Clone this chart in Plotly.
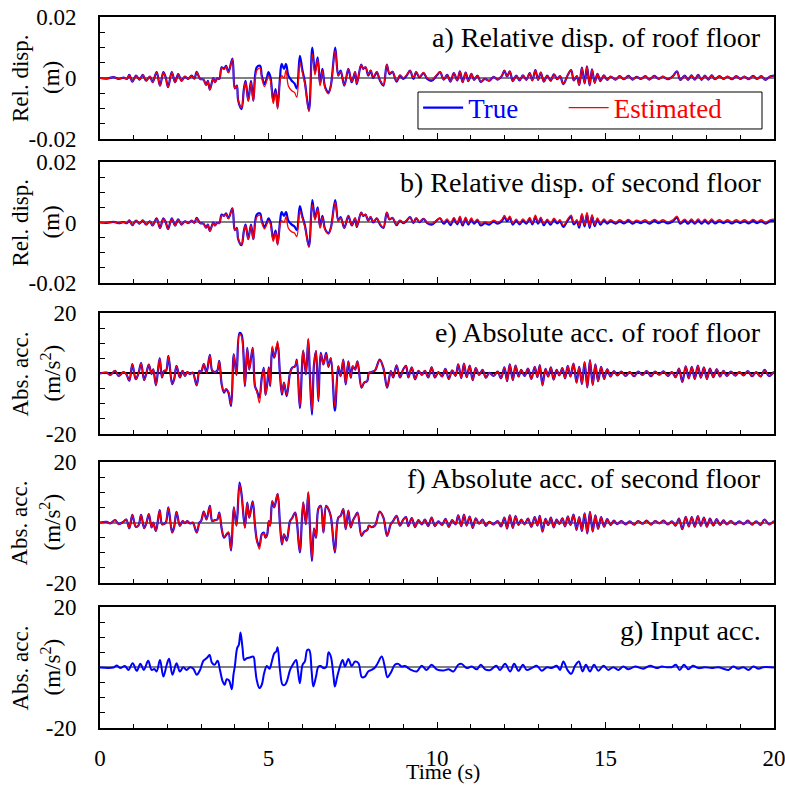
import numpy as np
import plotly.graph_objects as go
from plotly.subplots import make_subplots

# ---- relative displacement (read in mm, plotted in m) ----
t_disp_head = [0.0, 0.2, 0.4, 0.55, 0.7, 0.8, 0.87, 0.96, 1.07, 1.17,
               1.27, 1.37, 1.48, 1.56, 1.68, 1.78, 1.88, 1.95, 2.02, 2.13,
               2.23, 2.32, 2.42, 2.52, 2.62, 2.72, 2.8, 2.87, 2.97, 3.07,
               3.15, 3.2, 3.26, 3.36, 3.41, 3.48, 3.54, 3.61, 3.68, 3.74,
               3.81, 3.93, 4.0, 4.06, 4.1, 4.2, 4.27, 4.32, 4.4, 4.48,
               4.55, 4.65, 4.75, 4.8, 4.88, 4.95, 5.0, 5.06, 5.14, 5.21,
               5.27, 5.34, 5.39, 5.46, 5.52, 5.59, 5.69, 5.77, 5.84, 5.93,
               6.0, 6.08, 6.2, 6.3, 6.38, 6.46, 6.53, 6.6, 6.68, 6.78,
               6.85, 6.98, 7.07, 7.14, 7.25, 7.37, 7.47, 7.57, 7.62, 7.75,
               7.81, 7.88, 7.96, 8.03, 8.11, 8.21, 8.31, 8.41, 8.51, 8.59,
               8.68, 8.8, 8.9, 9.0, 9.1, 9.2, 9.3, 9.38, 9.48, 9.6,
               9.71, 9.84, 9.99, 10.09]
t_disp_tail = [10.2, 10.3, 10.4, 10.5, 10.6, 10.68, 10.76, 10.85, 10.93, 11.02,
               11.1, 11.2, 11.3, 11.42, 11.55, 11.68, 11.8, 11.92, 12.0, 12.08,
               12.16, 12.25, 12.35, 12.45, 12.55, 12.65, 12.75, 12.83, 12.92, 13.0,
               13.08, 13.17, 13.27, 13.37, 13.47, 13.57, 13.65, 13.75, 13.88, 13.98,
               14.06, 14.15, 14.22, 14.3, 14.38, 14.45, 14.53, 14.6, 14.68, 14.76,
               14.85, 14.95, 15.05, 15.15, 15.3, 15.42, 15.55, 15.68, 15.8, 15.92,
               16.05, 16.18, 16.3, 16.45, 16.58, 16.7, 16.85, 17.0, 17.12, 17.22,
               17.35, 17.45, 17.55, 17.65, 17.75, 17.85, 17.95, 18.05, 18.15, 18.25,
               18.38, 18.5, 18.62, 18.75, 18.88, 19.0, 19.12, 19.25, 19.38, 19.5,
               19.62, 19.75, 19.88, 20.0]

roof_disp_true_head = [0, -0.2, 0.3, -0.3, 0.1, -0.3, 1.0, -1.2, 0.8, -0.5,
                       1.0, -0.9, 0.5, -1.4, 1.9, -2.5, 1.9, 0.2, -3.0, 1.9,
                       -1.4, 1.3, -0.9, 0.5, -0.3, 0.8, -0.2, 2.0, -0.3, -0.5,
                       -2.3, -0.9, -3.8, 0.0, -1.4, -0.1, -0.3, 3.5, 3.0, 4.0,
                       1.9, 6.4, -3.4, -2.5, -7.4, -10.2, -3.6, -0.9, -7.4, -0.9,
                       -7.4, 3.5, 4.0, 0.8, -2.0, 0.0, 1.9, 0.2, -7.4, -3.6,
                       -9.6, 0.0, 4.6, 3.0, 4.6, 0.8, -0.9, -1.8, -3.4, 7.3,
                       3.0, -1.4, -10.7, 10.0, 1.9, 6.8, -2.0, 3.0, -3.0, -4.7,
                       -2.5, 10.0, 0.8, 2.4, -2.5, 3.0, -1.4, 1.9, -2.0, 4.4,
                       3.0, 3.5, 0.8, 2.4, 0.0, 1.9, -0.9, -2.5, 4.4, 1.3,
                       2.0, -1.2, 0.8, -0.3, 0.8, 2.4, -0.3, 1.9, 0.2, 1.6,
                       -0.3, -0.9, 0.8, 1.9]
roof_disp_est_head = [0, -0.2, 0.3, -0.3, 0.1, -0.3, 1.0, -1.2, 0.8, -0.5,
                      1.0, -0.9, 0.5, -1.4, 1.8, -2.6, 1.8, 0.1, -3.1, 1.8,
                      -1.5, 1.2, -1.0, 0.5, -0.3, 0.8, -0.2, 1.9, -0.3, -0.6,
                      -2.4, -1.0, -3.9, -0.1, -1.5, -0.2, -0.4, 3.3, 2.8, 3.8,
                      1.8, 6.2, -3.4, -2.6, -7.2, -9.8, -3.8, -1.4, -7.6, -1.4,
                      -7.6, 2.4, 3.2, 0.0, -2.8, -0.8, 0.8, -1.0, -8.4, -4.4,
                      -10.2, -1.2, 0.8, 0.0, 2.6, -2.6, -4.2, -4.7, -6.3, 5.2,
                      2.0, -2.0, -11.0, 8.0, 1.0, 6.2, -2.6, 2.4, -3.4, -5.2,
                      -2.6, 9.0, 0.8, 2.2, -2.4, 3.0, -1.2, 2.0, -1.8, 4.4,
                      3.1, 3.6, 1.0, 2.5, 0.2, 2.0, -0.7, -2.3, 4.4, 1.5,
                      2.2, -1.0, 1.0, 0.0, 1.0, 2.4, 0.0, 2.0, 0.4, 1.8,
                      0.0, -0.6, 1.0, 2.0]
roof_disp_tail = [-0.5, 1.0, -1.2, 1.6, -0.8, 2.2, -1.4, 1.8, -1.0, 1.4,
                  -0.6, 0.8, -1.3, -0.3, -0.9, 0.4, -0.5, 0.6, 2.4, 0.5,
                  2.2, -1.0, 0.8, -0.8, 0.9, -0.6, 1.6, -0.8, 2.6, -0.6,
                  1.8, -1.2, 0.8, -0.9, 1.2, -0.4, 0.6, -2.0, 1.0, 2.6,
                  -0.8, 0.6, -2.3, 3.4, -1.8, 3.8, -2.4, 2.8, -1.6, 1.4,
                  -1.0, 0.9, -0.6, 0.5, -0.5, 0.6, -0.4, 0.7, -0.5, 0.4,
                  -0.3, 0.6, -0.5, 0.7, -0.3, 0.5, -0.4, 0.6, 2.2, -0.6,
                  0.8, -0.6, 0.9, -0.5, 1.0, -0.6, 0.8, -0.5, 0.9, -0.4,
                  0.6, -0.3, 0.5, -0.4, 0.6, -0.3, 0.5, -0.4, 0.7, -0.3,
                  0.6, -0.6, 0.5, 0.8]

second_disp_true_head = [0, -0.1, 0.2, -0.2, 0.1, -0.2, 0.7, -0.9, 0.6, -0.4,
                         0.7, -0.7, 0.4, -1.0, 1.4, -1.8, 1.4, 0.1, -2.2, 1.4,
                         -1.0, 1.0, -0.7, 0.4, -0.2, 0.6, -0.1, 1.5, -0.2, -0.4,
                         -1.7, -0.7, -2.8, 0.0, -1.0, -0.1, -0.2, 2.6, 2.2, 3.0,
                         1.4, 4.7, -2.5, -1.8, -5.5, -7.5, -2.7, -0.7, -5.5, -0.7,
                         -5.5, 2.6, 3.0, 0.6, -1.5, 0.0, 1.4, 0.1, -5.5, -2.7,
                         -7.1, 0.0, 3.4, 2.2, 3.4, 0.6, -0.7, -1.3, -2.5, 5.4,
                         2.2, -1.0, -7.9, 7.4, 1.4, 5.0, -1.5, 2.2, -2.2, -3.5,
                         -1.8, 7.4, 0.6, 1.8, -1.8, 2.2, -1.0, 1.4, -1.5, 3.3,
                         2.2, 2.6, 0.6, 1.8, 0.0, 1.4, -0.7, -1.8, 3.3, 1.0,
                         1.5, -0.9, 0.6, -0.2, 0.6, 1.8, -0.2, 1.4, 0.1, 1.2,
                         -0.2, -0.7, 0.6, 1.4]
second_disp_est_head = [0, -0.1, 0.2, -0.2, 0.1, -0.2, 0.7, -0.9, 0.6, -0.4,
                        0.7, -0.7, 0.4, -1.0, 1.3, -1.9, 1.3, 0.1, -2.3, 1.3,
                        -1.1, 0.9, -0.7, 0.4, -0.2, 0.6, -0.1, 1.4, -0.2, -0.4,
                        -1.8, -0.7, -2.9, -0.1, -1.1, -0.1, -0.3, 2.4, 2.1, 2.8,
                        1.3, 4.6, -2.5, -1.9, -5.3, -7.3, -2.8, -1.0, -5.6, -1.0,
                        -5.6, 1.8, 2.4, 0.0, -2.1, -0.6, 0.6, -0.7, -6.2, -3.3,
                        -7.5, -0.9, 0.6, 0.0, 1.9, -1.9, -3.1, -3.5, -4.7, 3.8,
                        1.5, -1.5, -8.2, 5.9, 0.7, 4.6, -1.9, 1.8, -2.5, -3.8,
                        -1.9, 6.7, 0.6, 1.6, -1.8, 2.2, -0.9, 1.5, -1.3, 3.3,
                        2.3, 2.7, 0.7, 1.9, 0.1, 1.5, -0.5, -1.7, 3.3, 1.1,
                        1.6, -0.7, 0.7, 0.0, 0.7, 1.8, 0.0, 1.5, 0.3, 1.3,
                        0.0, -0.4, 0.7, 1.5]
second_disp_true_tail = [-0.4, 0.7, -0.9, 1.2, -0.6, 1.6, -1.0, 1.3, -0.7, 1.0,
                         -0.4, 0.6, -1.0, -0.2, -0.7, 0.3, -0.4, 0.4, 1.8, 0.4,
                         1.6, -0.7, 0.6, -0.6, 0.7, -0.4, 1.2, -0.6, 1.9, -0.4,
                         1.3, -0.9, 0.6, -0.7, 0.9, -0.3, 0.4, -1.5, 0.7, 1.9,
                         -0.6, 0.4, -1.7, 2.5, -1.3, 2.8, -1.8, 2.1, -1.2, 1.0,
                         -0.7, 0.7, -0.4, 0.4, -0.4, 0.4, -0.3, 0.5, -0.4, 0.3,
                         -0.2, 0.4, -0.4, 0.5, -0.2, 0.4, -0.3, 0.4, 1.6, -0.4,
                         0.6, -0.4, 0.7, -0.4, 0.7, -0.4, 0.6, -0.4, 0.7, -0.3,
                         0.4, -0.2, 0.4, -0.3, 0.4, -0.2, 0.4, -0.3, 0.5, -0.2,
                         0.4, -0.4, 0.4, 0.6]
second_disp_est_tail = [0.1, 1.2, -0.4, 1.7, -0.1, 2.1, -0.5, 1.8, -0.2, 1.5,
                        0.1, 1.1, -0.5, 0.3, -0.2, 0.8, 0.1, 0.9, 2.3, 0.9,
                        2.1, -0.2, 1.1, -0.1, 1.2, 0.1, 1.7, -0.1, 2.4, 0.1,
                        1.8, -0.4, 1.1, -0.2, 1.4, 0.2, 0.9, -1.0, 1.2, 2.4,
                        -0.1, 0.9, -1.2, 3.0, -0.8, 3.3, -1.3, 2.6, -0.7, 1.5,
                        -0.2, 1.2, 0.1, 0.9, 0.1, 0.9, 0.2, 1.0, 0.1, 0.8,
                        0.3, 0.9, 0.1, 1.0, 0.3, 0.9, 0.2, 0.9, 2.1, 0.1,
                        1.1, 0.1, 1.2, 0.1, 1.2, 0.1, 1.1, 0.1, 1.2, 0.2,
                        0.9, 0.3, 0.9, 0.2, 0.9, 0.3, 0.9, 0.2, 1.0, 0.3,
                        0.9, 0.1, 0.9, 1.1]

# ---- absolute acceleration (m/s^2) ----
t_acc_head = [0.0, 0.2, 0.3, 0.45, 0.55, 0.7, 0.78, 0.87, 0.96, 1.06,
              1.14, 1.22, 1.31, 1.38, 1.45, 1.53, 1.58, 1.66, 1.77, 1.84,
              1.9, 1.96, 2.03, 2.14, 2.2, 2.27, 2.37, 2.45, 2.52, 2.59,
              2.67, 2.75, 2.87, 2.95, 3.0, 3.08, 3.16, 3.26, 3.33, 3.41,
              3.48, 3.54, 3.61, 3.68, 3.74, 3.81, 3.89, 3.97, 4.05, 4.14,
              4.2, 4.3, 4.37, 4.43, 4.53, 4.6, 4.66, 4.73, 4.8, 4.86,
              4.91, 4.96, 5.01, 5.05, 5.11, 5.17, 5.27, 5.34, 5.4, 5.46,
              5.54, 5.64, 5.7, 5.79, 5.84, 5.93, 6.03, 6.11, 6.18, 6.23,
              6.29, 6.35, 6.41, 6.48, 6.55, 6.63, 6.71, 6.78, 6.85, 6.97,
              7.07, 7.14, 7.22, 7.29, 7.37, 7.44, 7.5, 7.57, 7.64, 7.76,
              7.84, 7.93, 7.98, 8.06, 8.16, 8.3, 8.41, 8.52, 8.63, 8.7,
              8.8, 8.9, 9.0, 9.08, 9.15, 9.25, 9.35, 9.45, 9.55, 9.64,
              9.74, 9.84, 9.94, 10.04]
t_acc_tail = [10.15, 10.25, 10.35, 10.45, 10.55, 10.63, 10.72, 10.8, 10.88, 10.97,
              11.06, 11.15, 11.25, 11.35, 11.45, 11.55, 11.68, 11.8, 11.9, 12.0,
              12.08, 12.16, 12.25, 12.33, 12.42, 12.5, 12.6, 12.7, 12.8, 12.9,
              12.98, 13.05, 13.13, 13.22, 13.3, 13.38, 13.46, 13.55, 13.63, 13.72,
              13.8, 13.88, 13.96, 14.05, 14.14, 14.22, 14.3, 14.38, 14.46, 14.54,
              14.62, 14.7, 14.78, 14.87, 14.96, 15.05, 15.15, 15.25, 15.35, 15.47,
              15.6, 15.72, 15.85, 15.97, 16.1, 16.22, 16.35, 16.47, 16.6, 16.72,
              16.85, 16.97, 17.08, 17.18, 17.28, 17.38, 17.47, 17.56, 17.65, 17.74,
              17.83, 17.92, 18.01, 18.1, 18.2, 18.3, 18.4, 18.5, 18.6, 18.72,
              18.85, 18.97, 19.1, 19.22, 19.35, 19.47, 19.6, 19.72, 19.85, 20.0]

roof_acc_true_head = [0, 0.3, -0.5, 0.9, -0.8, 0.5, -0.2, -2.4, 3.1, -1.9,
                      0.0, 3.4, -2.2, 0.3, 2.9, -0.2, 1.4, -3.9, 5.1, -1.3,
                      0.9, 0.9, 5.8, -3.5, -1.9, 2.5, -1.3, 0.9, -0.8, 0.5,
                      -0.2, 0.3, -3.9, 0.9, 0.5, 3.1, 0.3, 6.2, 0.9, 0.5,
                      0.9, 4.2, -3.5, -6.3, -5.2, -6.3, -10.7, 6.3, -0.5, 13.4,
                      12.9, -4.2, 8.5, 1.3, 8.5, -4.2, -5.8, -8.0, -1.4, 1.9,
                      -7.0, -3.6, 2.0, -4.2, 8.5, 5.2, 9.8, -0.3, -7.0, -3.0,
                      -7.5, 0.2, 1.9, 2.4, 4.6, -11.4, 7.4, -0.3, 11.2, -1.4,
                      -13.6, 3.0, 7.4, -9.1, 6.8, 3.0, 6.8, 2.2, 5.0, -12.3,
                      2.4, -0.9, 4.6, -3.6, 4.0, -1.4, 2.4, 1.3, 4.0, -4.7,
                      -3.0, -2.5, 0.2, 0.5, 1.0, 4.6, 1.8, -4.7, 0.8, -1.3,
                      2.7, -1.3, 1.4, 2.5, -1.3, 2.0, -1.9, 0.9, -0.5, 0.9,
                      -1.3, 2.0, -1.3, 0.5]
roof_acc_est_head = [0, 0.3, -0.5, 0.9, -0.8, 0.5, -0.2, -2.3, 3.0, -1.9,
                     0.0, 3.3, -2.2, 0.3, 2.9, -0.2, 1.4, -3.8, 5.0, -1.3,
                     0.9, 0.9, 5.7, -3.5, -1.9, 2.5, -1.3, 0.9, -0.8, 0.5,
                     -0.2, 0.3, -3.8, 0.9, 0.5, 3.1, 0.3, 6.0, 0.9, 0.5,
                     0.9, 4.1, -3.4, -6.1, -5.0, -6.0, -10.3, 6.5, -0.3, 13.0,
                     12.2, -4.0, 8.2, 1.3, 8.3, -4.2, -6.2, -9.7, -1.8, 1.6,
                     -7.2, -3.8, 1.8, -4.0, 9.0, 5.4, 10.7, 0.0, -6.6, -3.0,
                     -7.0, 0.2, 1.8, 2.4, 4.4, -11.0, 7.8, 0.0, 11.6, -1.0,
                     -12.5, 3.0, 7.6, -8.6, 6.6, 3.0, 6.4, 2.4, 5.2, -11.0,
                     2.4, -0.9, 4.6, -3.4, 4.0, -1.4, 2.4, 1.3, 4.0, -4.6,
                     -3.0, -2.5, 0.2, 0.5, 1.0, 4.5, 1.8, -4.6, 0.8, -1.3,
                     2.7, -1.3, 1.4, 2.5, -1.3, 2.0, -1.9, 0.9, -0.5, 0.9,
                     -1.3, 2.0, -1.3, 0.5]
roof_acc_tail = [-1.0, 1.5, -1.8, 1.0, -0.8, 3.0, -1.5, 3.3, -1.2, 2.6,
                 -2.2, 1.8, -0.5, 1.2, -1.4, 0.2, -0.8, 0.6, -1.6, 2.0,
                 -2.5, 3.0, -2.2, 2.6, -1.0, 1.2, -0.8, 1.6, -1.8, 2.2,
                 -1.2, 2.8, -3.9, 1.5, -1.0, 2.0, -2.0, 1.2, -0.6, 1.8,
                 -1.6, 2.5, -1.0, 3.3, -3.0, 2.2, -3.5, 3.8, -4.6, 4.4,
                 -3.8, 3.0, -2.6, 2.2, -1.8, 1.4, -1.0, 0.8, -0.6, 0.6,
                 -0.8, 0.5, -0.9, 0.6, -0.5, 0.8, -0.9, 0.6, -0.4, 0.7,
                 -0.8, 0.5, -1.2, 1.6, -2.8, 2.4, -1.6, 2.2, -1.8, 2.6,
                 -1.4, 2.0, -1.8, 1.6, -1.2, 1.4, -1.0, 0.9, -0.8, 0.6,
                 -0.7, 0.5, -0.6, 0.8, -0.9, 0.5, -1.0, 1.2, -0.8, 0.6]

second_acc_true_head = [0, 0.2, -0.3, 0.8, -0.5, 0.3, 1.0, -1.9, 2.5, -1.4,
                        -1.0, 2.5, -1.9, 0.0, 2.8, -1.6, 0.0, -2.8, 4.1, -0.5,
                        -0.5, 0.2, 5.0, -3.3, -1.5, 3.5, -1.1, 0.5, -0.2, 0.5,
                        -0.3, 0.0, -3.3, 0.0, 0.5, 3.6, 1.0, 5.5, 0.5, 0.8,
                        1.0, 3.3, -2.0, -5.0, -4.2, -3.3, -9.2, 5.0, -1.0, 13.2,
                        9.4, -1.6, 6.6, 1.6, 7.0, -1.0, -6.0, -7.8, -3.9, -3.3,
                        -5.0, -4.0, 0.5, -1.0, 7.0, 5.0, 9.4, -0.5, -7.2, -3.9,
                        -6.0, 0.5, 1.4, 3.3, 0.5, -9.9, 6.6, -0.5, 9.9, -1.5,
                        -12.7, -2.0, -5.0, 4.6, 5.5, -3.3, 5.5, 4.4, 2.0, -9.9,
                        1.6, 2.2, 4.4, -2.2, 3.9, -1.6, 0.5, 2.0, 3.3, -4.4,
                        -3.0, -2.5, -1.0, -1.5, -1.0, 3.6, 1.6, -4.4, -0.5, 0.5,
                        2.2, -1.0, 1.0, 1.8, -1.2, 1.5, -1.5, 0.8, -0.6, 1.0,
                        -1.2, 1.6, -1.2, 0.4]
second_acc_est_head = [0, 0.2, -0.3, 0.8, -0.5, 0.3, 1.0, -1.9, 2.5, -1.4,
                       -1.0, 2.5, -1.9, 0.0, 2.8, -1.6, 0.0, -2.8, 4.0, -0.5,
                       -0.5, 0.2, 5.0, -3.3, -1.5, 3.4, -1.1, 0.5, -0.2, 0.5,
                       -0.3, 0.0, -3.3, 0.0, 0.5, 3.5, 1.0, 5.4, 0.5, 0.8,
                       1.0, 3.2, -2.0, -4.8, -4.0, -3.2, -9.0, 5.2, -1.0, 12.6,
                       9.0, -1.8, 6.4, 1.6, 6.8, -1.2, -6.4, -8.8, -4.2, -3.5,
                       -5.0, -4.0, 0.5, -1.2, 7.2, 5.0, 9.6, -0.5, -7.0, -3.9,
                       -5.8, 0.5, 1.4, 3.3, 0.5, -9.6, 6.8, -0.5, 10.2, -1.5,
                       -12.0, -2.0, -5.0, 4.6, 5.5, -3.3, 5.5, 4.4, 2.0, -9.6,
                       1.6, 2.2, 4.4, -2.2, 3.9, -1.6, 0.5, 2.0, 3.3, -4.3,
                       -3.0, -2.5, -1.0, -1.5, -1.0, 3.6, 1.6, -4.4, -0.5, 0.5,
                       2.2, -1.0, 1.0, 1.8, -1.2, 1.5, -1.5, 0.8, -0.6, 1.0,
                       -1.2, 1.6, -1.2, 0.4]
second_acc_tail = [-0.8, 1.2, -1.4, 0.8, -0.6, 2.4, -1.2, 2.6, -1.0, 2.0,
                   -1.8, 1.4, -0.4, 1.0, -1.1, 0.2, -0.6, 0.5, -1.3, 1.6,
                   -2.0, 2.4, -1.8, 2.1, -0.8, 1.0, -0.6, 1.3, -1.4, 1.8,
                   -1.0, 2.2, -3.0, 1.2, -0.8, 1.6, -1.6, 1.0, -0.5, 1.4,
                   -1.3, 2.0, -0.8, 2.6, -2.4, 1.8, -2.8, 3.0, -3.6, 3.5,
                   -3.0, 2.4, -2.1, 1.8, -1.4, 1.1, -0.8, 0.6, -0.5, 0.5,
                   -0.6, 0.4, -0.7, 0.5, -0.4, 0.6, -0.7, 0.5, -0.3, 0.6,
                   -0.6, 0.4, -1.0, 1.3, -2.2, 1.9, -1.3, 1.8, -1.4, 2.1,
                   -1.1, 1.6, -1.4, 1.3, -1.0, 1.1, -0.8, 0.7, -0.6, 0.5,
                   -0.6, 0.4, -0.5, 0.6, -0.7, 0.4, -0.8, 1.0, -0.6, 0.5]

# ---- input (ground) acceleration (m/s^2) ----
t_inp = [0.0, 0.4, 0.5, 0.6, 0.74, 0.84, 0.97, 1.09, 1.2, 1.3,
         1.43, 1.53, 1.61, 1.68, 1.78, 1.88, 1.98, 2.05, 2.15, 2.27,
         2.37, 2.47, 2.57, 2.67, 2.77, 2.87, 2.97, 3.07, 3.17, 3.25,
         3.32, 3.4, 3.49, 3.56, 3.64, 3.7, 3.76, 3.83, 3.91, 3.96,
         4.0, 4.07, 4.12, 4.17, 4.23, 4.28, 4.35, 4.45, 4.55, 4.6,
         4.65, 4.73, 4.8, 4.87, 4.95, 5.03, 5.1, 5.17, 5.23, 5.27,
         5.34, 5.42, 5.49, 5.56, 5.64, 5.72, 5.82, 5.87, 5.93, 6.01,
         6.08, 6.15, 6.21, 6.28, 6.33, 6.41, 6.48, 6.55, 6.63, 6.71,
         6.78, 6.85, 6.93, 6.97, 7.04, 7.12, 7.2, 7.27, 7.37, 7.47,
         7.57, 7.67, 7.77, 7.86, 7.96, 8.06, 8.16, 8.24, 8.36, 8.46,
         8.53, 8.63, 8.75, 8.85, 8.95, 9.05, 9.2, 9.4, 9.55, 9.69,
         9.84, 9.99, 10.19, 10.34, 10.49, 10.63, 10.73, 10.88, 11.03, 11.18,
         11.3, 11.43, 11.58, 11.76, 11.87, 12.02, 12.17, 12.29, 12.42, 12.55,
         12.66, 12.81, 12.96, 13.11, 13.26, 13.4, 13.55, 13.65, 13.75, 13.87,
         13.98, 14.1, 14.21, 14.32, 14.42, 14.54, 14.66, 14.79, 14.94, 15.08,
         15.23, 15.38, 15.53, 15.68, 15.88, 16.12, 16.32, 16.52, 16.67, 16.81,
         16.96, 17.09, 17.2, 17.33, 17.46, 17.59, 17.76, 17.95, 18.15, 18.35,
         18.5, 18.65, 18.79, 18.94, 19.09, 19.24, 19.39, 19.54, 19.68, 20.0]
input_acc = [0, 0.0, 0.7, -0.2, 0.5, -0.8, 1.4, -1.1, 1.2, -0.8,
             2.2, -0.8, -0.5, -1.3, 2.5, -3.0, 0.9, 2.9, -2.4, 1.4,
             -1.3, 0.1, -0.8, 0.1, -0.4, -2.4, -0.8, 2.3, 3.1, 4.1,
             1.6, 0.9, 2.2, -0.8, -4.6, -5.7, -3.9, -4.3, -7.2, -2.4,
             0.3, 6.4, 7.5, 11.6, 6.4, 2.5, 3.0, 3.3, 3.6, 0.3,
             -4.1, -6.8, -5.7, -1.9, 0.5, -0.4, 2.0, 4.7, 5.3, 6.7,
             -0.8, -5.7, -5.7, -4.1, -0.8, 0.9, 2.5, -0.8, -5.2, 0.9,
             2.0, 5.8, 5.8, -1.3, -6.3, -3.0, 0.3, 0.5, -0.2, 0.1,
             5.0, 3.6, -3.0, -6.3, -3.0, 0.3, 2.5, 0.3, 2.8, 0.5,
             2.0, 1.4, -3.2, -3.0, -1.3, -0.8, 0.0, 1.4, 3.6, -0.2,
             -3.2, -1.7, 0.9, 1.2, 0.3, 0.5, -0.6, -1.3, 0.6, -0.8,
             0.9, -0.6, -1.0, -0.6, -1.3, 0.9, 1.2, -0.2, 0.3, -0.6,
             0.9, -0.6, -0.8, 0.6, -0.8, 1.2, -1.3, 1.2, -1.1, 0.9,
             -0.8, -0.2, 0.6, -1.1, 0.1, -0.2, 0.6, -0.8, 2.0, -0.8,
             -2.1, 0.6, 2.0, -1.3, 0.9, -1.3, 0.9, -1.1, 0.6, -0.8,
             0.1, -0.8, 0.3, -0.6, 0.3, -0.4, 0.6, -0.2, 0.3, 0.1,
             0.1, 0.9, -0.8, 0.9, -0.6, 0.6, -0.2, 0.1, -0.2, 0.1,
             -0.4, -0.8, 0.3, -0.4, 0.1, -0.8, 0.3, -0.4, 0.1, 0.0]

panel_labels = ["a) Relative disp. of roof floor", "b) Relative disp. of second floor",
                "e) Absolute acc. of roof floor", "f) Absolute acc. of second floor",
                "g) Input acc."]

# assemble full records
t_disp = t_disp_head + t_disp_tail
t_acc = t_acc_head + t_acc_tail
series = [
    (t_disp, np.array(roof_disp_true_head + roof_disp_tail) / 1000,
     np.array(roof_disp_est_head + roof_disp_tail) / 1000),
    (t_disp, np.array(second_disp_true_head + second_disp_true_tail) / 1000,
     np.array(second_disp_est_head + second_disp_est_tail) / 1000),
    (t_acc, roof_acc_true_head + roof_acc_tail, roof_acc_est_head + roof_acc_tail),
    (t_acc, second_acc_true_head + second_acc_tail, second_acc_est_head + second_acc_tail),
]
for t, a, b in series:
    assert len(t) == len(a) == len(b), (len(t), len(a), len(b))
assert len(t_inp) == len(input_acc)

FONT = "Liberation Serif"
BLUE = "#0000FF"
RED = "#FF0000"
NB = "&nbsp;"

fig = make_subplots(rows=5, cols=1)

for i, (t, tr, est) in enumerate(series):
    fig.add_trace(go.Scatter(x=t, y=tr, mode="lines", line=dict(color=BLUE, width=2.2, shape="spline"),
                             name='<span style="color:#0000FF">True' + NB * 6 + '</span>',
                             showlegend=(i == 0)),
                  row=i + 1, col=1)
    fig.add_trace(go.Scatter(x=t, y=est, mode="lines", line=dict(color=RED, width=1.3, shape="spline"),
                             name='<span style="color:#FF0000">Estimated</span>',
                             showlegend=(i == 0)),
                  row=i + 1, col=1)
fig.add_trace(go.Scatter(x=t_inp, y=input_acc, mode="lines", line=dict(color=BLUE, width=2, shape="spline"),
                         showlegend=False), row=5, col=1)

domains = [(0.8284, 1.0), (0.6259, 0.7961), (0.4135, 0.5837), (0.2039, 0.3741), (0.0, 0.1702)]

for r in range(1, 6):
    fig.update_xaxes(range=[0, 20], showline=True, linecolor="black", linewidth=2, mirror=True,
                     ticks="inside", ticklen=6, tickwidth=1, tickcolor="black", tick0=0, dtick=5,
                     minor=dict(dtick=1, ticks="inside", ticklen=4, tickcolor="black"),
                     showgrid=False, zeroline=False, showticklabels=(r == 5), automargin=False,
                     ticklabeloverflow="allow",
                     tickfont=dict(family=FONT, size=23, color="black"), ticklabelstandoff=8,
                     row=r, col=1)
    if r <= 2:
        lim, minor = 0.02, [-0.015, -0.01, -0.005, 0.005, 0.01, 0.015]
        ticktext = ["-0.02", "0", "0.02"]
    else:
        lim, minor = 20, [-15, -10, -5, 5, 10, 15]
        ticktext = ["-20", "0", "20"]
    # labelled ticks sit on the frame / zero line, so they are kept invisible and
    # only used to push the labels away from the frame
    fig.update_yaxes(domain=domains[r - 1], range=[-lim, lim], showline=True, linecolor="black",
                     linewidth=2, mirror=True, ticks="outside", ticklen=17,
                     tickcolor="rgba(0,0,0,0)",
                     tickmode="array", tickvals=[-lim, 0, lim], ticktext=ticktext,
                     minor=dict(tickmode="array", tickvals=minor, ticks="inside", ticklen=5,
                                tickcolor="black"),
                     showgrid=False, zeroline=True, zerolinewidth=1.5, automargin=False,
                     zerolinecolor="black" if r == 3 else "#808080",
                     tickfont=dict(family=FONT, size=23, color="black"),
                     row=r, col=1)

annotations = []
label_y = [0.9705, 0.7679, 0.5556, 0.3516, 0.1378]
for text, y in zip(panel_labels, label_y):
    annotations.append(dict(text=text, x=0.9837, y=y, xref="paper", yref="paper",
                            xanchor="right", yanchor="middle", showarrow=False,
                            font=dict(family=FONT, size=28, color="black")))

centres = [0.9142, 0.7110, 0.4986, 0.2890, 0.0851]
titles = [("Rel. disp.", "(m)")] * 2 + [("Abs. acc.", "(m/s<sup>2</sup>)")] * 3
for (l1, l2), y in zip(titles, centres):
    for text, x in ((l1, -0.1187), (l2, -0.0727)):
        annotations.append(dict(text=text, x=x, y=y, xref="paper", yref="paper", textangle=-90,
                                xanchor="center", yanchor="middle", showarrow=False,
                                font=dict(family=FONT, size=23, color="black")))

annotations.append(dict(text="Time (s)", x=0.509, y=-0.0816, xref="paper", yref="paper",
                        xanchor="center", yanchor="bottom", showarrow=False,
                        font=dict(family=FONT, size=22, color="black")))

# frame drawn around the legend entries (418..762 px, 92..129 px in the reference)
legend_frame = dict(type="rect", xref="paper", yref="paper",
                    x0=0.4718, x1=0.9822, y0=0.8425, y1=0.8945,
                    line=dict(color="black", width=1), fillcolor="white", layer="above")

fig.update_layout(
    width=785, height=786,
    margin=dict(l=100, r=11, t=17, b=58),
    paper_bgcolor="white", plot_bgcolor="white",
    font=dict(family=FONT, color="black"),
    annotations=annotations,
    shapes=[legend_frame],
    legend=dict(orientation="h", x=0.472, y=0.872, xanchor="left", yanchor="middle",
                borderwidth=0, bgcolor="rgba(0,0,0,0)",
                font=dict(family=FONT, size=27), itemwidth=40),
)

fig.write_html("out.html", config={"displayModeBar": False},
               post_script="document.body.style.margin='0';document.body.style.overflow='hidden';")
